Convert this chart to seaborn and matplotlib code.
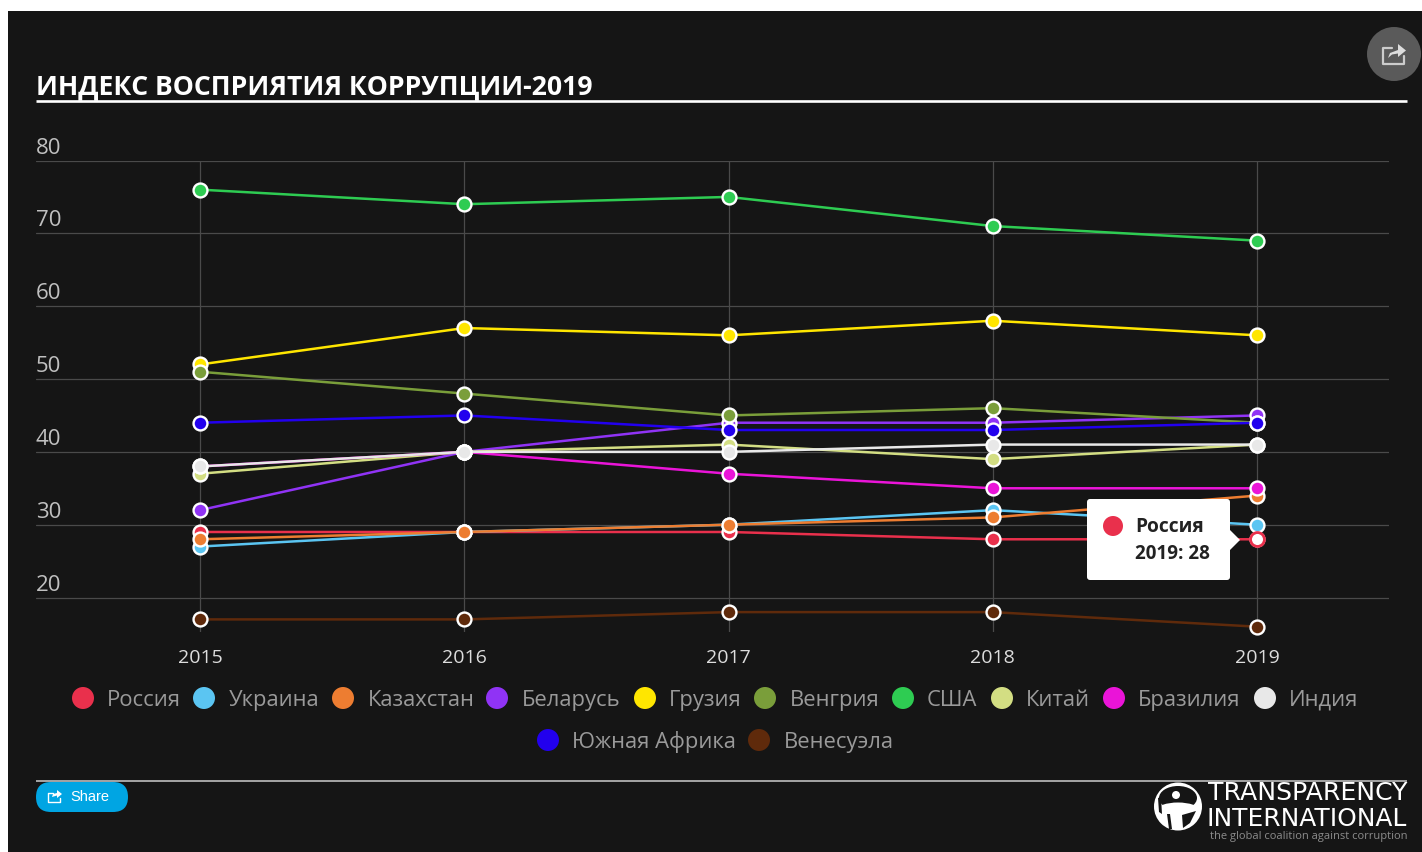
#!/usr/bin/env python3
"""Corruption perception index 2015-2019, dark Transparency International card."""

import pandas as pd
import matplotlib
matplotlib.use("Agg")
import matplotlib.pyplot as plt
import matplotlib.patches as mpatches
import matplotlib.transforms as mtrans
import seaborn as sns

# ── data ────────────────────────────────────────────────────────────
years = [2015, 2016, 2017, 2018, 2019]
countries = [
    "Россия", "Украина", "Казахстан", "Беларусь", "Грузия", "Венгрия",
    "США", "Китай", "Бразилия", "Индия", "Южная Африка", "Венесуэла",
]
russia = [29, 29, 29, 28, 28]
ukraine = [27, 29, 30, 32, 30]
kazakhstan = [28, 29, 30, 31, 34]
belarus = [32, 40, 44, 44, 45]
georgia = [52, 57, 56, 58, 56]
hungary = [51, 48, 45, 46, 44]
usa = [76, 74, 75, 71, 69]
china = [37, 40, 41, 39, 41]
brazil = [38, 40, 37, 35, 35]
india = [38, 40, 40, 41, 41]
south_africa = [44, 45, 43, 43, 44]
venezuela = [17, 17, 18, 18, 16]
series = [russia, ukraine, kazakhstan, belarus, georgia, hungary,
          usa, china, brazil, india, south_africa, venezuela]
colors = ["#e9304c", "#5bc5f2", "#ed7d31", "#9033f5", "#ffe600", "#7a9e3a",
          "#2ecc52", "#d3de83", "#ea14d8", "#e8e8e8", "#2200ee", "#5f2a0b"]
y_ticks = [20, 30, 40, 50, 60, 70, 80]

title = "ИНДЕКС ВОСПРИЯТИЯ КОРРУПЦИИ-2019"

df = pd.DataFrame(
    [(c, y, v) for c, vals in zip(countries, series) for y, v in zip(years, vals)],
    columns=["country", "year", "score"],
)

# ── figure ──────────────────────────────────────────────────────────
W, H = 1422, 852
BG = "#151515"
sns.set_style("dark")
plt.rcParams["font.family"] = ["Open Sans", "DejaVu Sans"]

fig = plt.figure(figsize=(W / 100, H / 100), dpi=100, facecolor="white")

# pixel-coordinate layer for the card, legend and footer
over = fig.add_axes([0, 0, 1, 1], zorder=0)
over.set_xlim(0, W)
over.set_ylim(H, 0)
over.axis("off")
over.add_patch(mpatches.Rectangle((8, 11), W - 8, H - 11, fc=BG, ec="none"))

ax = fig.add_axes(
    [36 / W, 1 - 632 / H, (1389 - 36) / W, (632 - 160.5) / H],
    facecolor="none", zorder=2,
)
palette = dict(zip(countries, colors))
sns.lineplot(
    data=df, x="year", y="score", hue="country", hue_order=countries,
    palette=palette, marker="o", markersize=10, markeredgecolor="white",
    markeredgewidth=1.7, linewidth=1.8, legend=False, errorbar=None,
    sort=False, ax=ax, clip_on=False,
)
ax.set_xlim(2014.379, 2019.4995)
ax.set_ylim(15.27, 80)
ax.set_xlabel("")
ax.set_ylabel("")
ax.set_xticks(years)
ax.set_xticklabels([str(y) for y in years], color="#dddddd", fontsize=14)
ax.set_yticks(y_ticks)
ax.set_yticklabels([str(v) for v in y_ticks], color="#c0c0c0", fontsize=16)
ax.tick_params(axis="x", length=0, pad=12)
ax.tick_params(axis="y", length=0, pad=0)
lift = mtrans.ScaledTranslation(0, 2 / 100, fig.dpi_scale_trans)
for lab in ax.get_yticklabels():
    lab.set_horizontalalignment("left")
    lab.set_verticalalignment("bottom")
    lab.set_transform(lab.get_transform() + lift)
ax.grid(True, color="#4a4a4a", linewidth=0.9)
ax.set_axisbelow(True)
sns.despine(ax=ax, left=True, bottom=True)

# hovered point is hollow
ax.plot(years[-1], russia[-1], "o", ms=10, mfc="white", mec="#e9304c", mew=2.0, zorder=6)

# ── top strip ───────────────────────────────────────────────────────
top = fig.add_axes([0, 0, 1, 1], zorder=3, facecolor="none")
top.set_xlim(0, W)
top.set_ylim(H, 0)
top.axis("off")
top.text(36, 94, title, color="white", fontsize=19.15, fontweight="bold", va="baseline")
top.plot([36, 1407], [101, 101], color="white", lw=1.9, solid_capstyle="butt")
top.add_patch(mpatches.Circle((1394, 54), 27, fc="#5a5a5a", ec="none"))
top.plot([1392, 1383, 1383, 1404, 1404], [48, 48, 64, 64, 56], color="#cccccc", lw=1.6)
top.add_patch(mpatches.Polygon([(1388, 58), (1390, 53), (1398, 50), (1398, 44), (1406, 50.5),
                                (1398, 57), (1398, 53.5), (1392, 54.5)],
                               fc="#dddddd", ec="none"))

# ── tooltip ─────────────────────────────────────────────────────────
top.add_patch(mpatches.FancyBboxPatch((1090, 502), 137, 75, boxstyle="round,pad=3,rounding_size=3",
                                      fc="white", ec="none"))
top.add_patch(mpatches.Polygon([(1230, 530), (1240, 540), (1230, 550)], fc="white", ec="none"))
top.add_patch(mpatches.Circle((1113, 526), 10, fc="#e9304c", ec="none"))
top.text(1135, 532, countries[0], color="#222222", fontsize=13.8, fontweight="bold", va="baseline")
top.text(1135, 559, f"{years[-1]}: {russia[-1]}", color="#222222", fontsize=13.6,
         fontweight="bold", va="baseline")

# ── legend ──────────────────────────────────────────────────────────
dot_x = [83, 204, 343, 497, 645, 765, 903, 1002, 1114, 1265, 548, 759]
text_x = [107, 229, 368, 522, 669, 790, 927, 1026, 1138, 1289, 572, 784]
row_y = [698] * 10 + [740] * 2
for name, col, dx, tx, ry in zip(countries, colors, dot_x, text_x, row_y):
    top.add_patch(mpatches.Circle((dx, ry), 11, fc=col, ec="none"))
    top.text(tx, ry + 8, name, color="#9a9a9a", fontsize=15.8, va="baseline")

# ── footer ──────────────────────────────────────────────────────────
top.plot([36, 1407], [781, 781], color="#cccccc", lw=1.1, solid_capstyle="butt")
top.add_patch(mpatches.FancyBboxPatch((36, 782), 92, 30, boxstyle="round,pad=0,rounding_size=15",
                                      fc="#00a5e3", ec="none"))
top.plot([53, 48, 48, 60, 60], [793, 793, 802, 802, 798], color="white", lw=1.0)
top.add_patch(mpatches.Polygon([(52, 797), (53, 794), (57, 793), (57, 790), (62, 794), (57, 798), (57, 795.5)],
                               fc="white", ec="none"))
top.text(70, 797, "Share", color="white", fontsize=10.5, family="Liberation Sans", va="center")

# logo, roughly: white globe with a dark figure cut out
top.add_patch(mpatches.Circle((1178, 806.5), 24, fc="white", ec="none"))
top.add_patch(mpatches.Ellipse((1178, 798), 38, 24, fc=BG, ec="none"))
top.add_patch(mpatches.Circle((1176, 795), 4, fc="white", ec="none"))
top.add_patch(mpatches.Ellipse((1178, 810), 42, 15, fc="white", ec="none"))
top.add_patch(mpatches.Polygon([(1167, 814), (1170, 814), (1172, 829), (1169, 829)], fc=BG, ec="none"))
top.add_patch(mpatches.Polygon([(1182, 815), (1196, 811), (1190, 823), (1183, 828)], fc=BG, ec="none"))
top.add_patch(mpatches.Polygon([(1158, 798), (1161, 797), (1162, 814), (1159, 812)], fc=BG, ec="none"))
top.text(1407, 793.5, "TRANSPARENCY", color="white", fontsize=18.1, family="DejaVu Sans",
         ha="right", va="center")
top.text(1407, 818.5, "INTERNATIONAL", color="white", fontsize=17.9, family="DejaVu Sans",
         ha="right", va="center")
top.text(1407, 837, "the global coalition against corruption", color="#8c8c8c", fontsize=8,
         ha="right", va="center")

fig.savefig("out.png", dpi=100, facecolor=fig.get_facecolor())
plt.close(fig)
